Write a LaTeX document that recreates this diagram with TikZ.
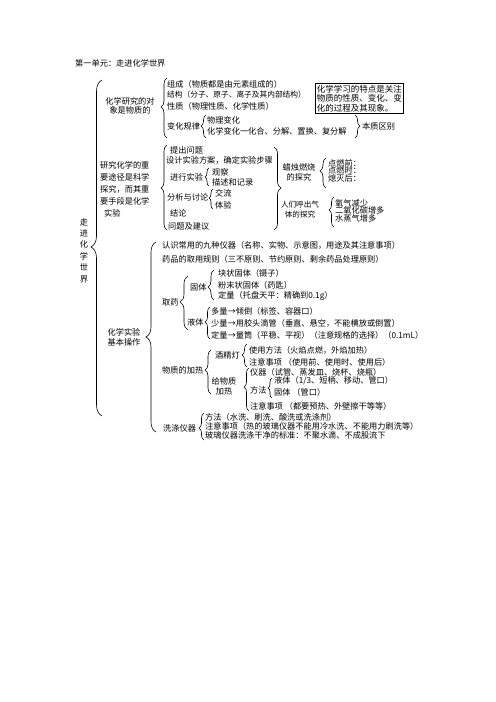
\documentclass[tikz,border=0pt]{standalone}
\usepackage{fontspec}
\setmainfont{Noto Sans CJK SC}
\usetikzlibrary{decorations.pathreplacing}
\newcommand\setfs[1]{\fontsize{#1bp}{#1bp}\selectfont}
\newcommand\bracL[5]{% x, ytop, ybot, ycusp, amplitude : opening brace {
  \pgfmathsetmacro\bAsp{(#3-#4)/(#3-#2)}%
  \draw[brc,decoration={brace,amplitude=#5bp,aspect=\bAsp}] (#1,#3) -- (#1,#2);}
\newcommand\bracR[5]{% closing brace }
  \pgfmathsetmacro\bAsp{(#4-#2)/(#3-#2)}%
  \draw[brc,decoration={brace,amplitude=#5bp,aspect=\bAsp}] (#1,#2) -- (#1,#3);}
\tikzset{
  txt/.style={anchor=west,inner sep=0pt,font=\setfs{8.2}},
  lbl/.style={inner sep=0pt,align=center,font=\setfs{8.2}},
  brc/.style={decorate,line width=0.6bp,black},
  notebox/.style={draw,line width=0.8bp,inner sep=1.5bp,align=left,anchor=north west,
    font=\fontsize{8.5bp}{9.6bp}\selectfont}
}
\begin{document}
\begin{tikzpicture}[x=1bp,y=-1bp]
\useasboundingbox (0,0) rectangle (496,702);
% title
\node[txt] (title) at (75,63) {第一单元：走进化学世界};
% root label
\node[lbl,font=\fontsize{8.2bp}{11.4bp}\selectfont] (root) at (84,250.5) {走\\进\\化\\学\\世\\界};
\bracL{102}{80}{416}{247}{11}
% level 1 labels
\node[lbl,font=\fontsize{8.2bp}{9.2bp}\selectfont] (obj) at (130,106) {化学研究的对\\象是物质的};
\node[lbl,align=left,anchor=west,font=\fontsize{8.2bp}{12bp}\selectfont] (way) at (100,189) {研究化学的重\\要途径是科学\\探究，而其重\\要手段是化学\\\hspace{4bp}实验};
\node[lbl,font=\fontsize{8.2bp}{10bp}\selectfont] (ops) at (124,337) {化学实验\\基本操作};
% ---------- group 1
\bracL{167}{78}{138}{107}{6}
\node[txt] (zc) at (167,84) {组成（物质都是由元素组成的）};
\node[txt,font=\setfs{7.7}] (jg) at (167,95) {结构（分子、原子、离子及其内部结构）};
\node[txt] (xz) at (167,106) {性质（物理性质、化学性质）};
\node[txt] (bh) at (167,126) {变化规律};
\bracL{206}{115}{138}{126}{5}
\node[txt] (wl) at (207,120) {物理变化};
\node[txt] (hx) at (207,131) {化学变化一化合、分解、置换、复分解};
\bracR{355}{115}{138}{126}{5}
\node[txt] (bz) at (362,126) {本质区别};
\node[notebox] (note) at (315,83) {化学学习的特点是关注\\物质的性质、变化、变\\化的过程及其现象。};
% ---------- group 2
\bracL{167}{145}{230}{188}{6}
\node[txt] (tc) at (170,150) {提出问题};
\node[txt] (sj) at (166,160) {设计实验方案，确定实验步骤};
\node[txt] (jx) at (170,177) {进行实验};
\bracL{209}{168}{186}{177}{4}
\node[txt] (gc) at (212,172) {观察};
\node[txt] (ms) at (212,182) {描述和记录};
\node[txt] (fx) at (167,197) {分析与讨论};
\bracL{213}{189}{209}{198}{4}
\node[txt] (jl) at (215,193) {交流};
\node[txt] (ty) at (215,205) {体验};
\node[txt] (jlun) at (170,213) {结论};
\node[txt] (wt) at (168,226) {问题及建议};
\bracR{274}{147}{230}{188}{7}
\node[lbl,font=\fontsize{8.2bp}{10bp}\selectfont] (lz) at (299,172) {蜡烛燃烧\\的探究};
\bracL{326}{158}{188}{171}{6}
\node[txt] (dr1) at (328,163) {点燃前：};
\node[txt] (dr2) at (328,170.5) {点燃时：};
\node[txt] (dr3) at (328,178) {熄灭后：};
\node[lbl,font=\fontsize{7.6bp}{10bp}\selectfont] (hq) at (300,210) {人们呼出气\\体的探究};
\bracL{334}{197}{227}{210}{5}
\node[txt] (o2) at (335,203) {氧气减少};
\node[txt] (co2) at (335,210.5) {二氧化碳增多};
\node[txt] (h2o) at (335,218) {水蒸气增多};
% ---------- group 3
\bracL{156}{242}{432}{337}{10}
\node[txt] (rs) at (162,245) {认识常用的九种仪器（名称、实物、示意图，用途及其注意事项）};
\node[txt] (yp) at (162,259) {药品的取用规则（三不原则、节约原则、剩余药品处理原则）};
\node[txt] (qy) at (162,302) {取药};
\bracL{188}{276}{330}{302}{8}
\node[txt] (gt) at (190,287) {固体};
\bracL{214}{270}{300}{287}{6}
\node[txt] (kz) at (218,273) {块状固体（镊子）};
\node[txt] (fm) at (218,285) {粉末状固体（药匙）};
\node[txt] (dl) at (218,296) {定量（托盘天平：精确到0.1g）};
\node[txt] (yt) at (187,322) {液体};
\bracL{210}{307}{339}{322}{5}
\node[txt] (dl1) at (211,311) {多量→倾倒（标签、容器口）};
\node[txt] (sl) at (211,323) {少量→用胶头滴管（垂直、悬空，不能横放或倒置）};
\node[txt] (dl2) at (211,335) {定量→量筒（平稳、平视）（注意规格的选择）（0.1mL）};
\node[txt] (jr) at (162,370) {物质的加热};
\bracL{211}{350}{394}{370}{6}
\node[txt] (jjd) at (215,355) {酒精灯};
\bracL{247}{344}{367}{355}{5}
\node[txt] (syff) at (249,350) {使用方法（火焰点燃，外焰加热）};
\node[txt] (zysx1) at (249,362) {注意事项 （使用前、使用时、使用后）};
\node[lbl,font=\fontsize{8.2bp}{10bp}\selectfont] (gwz) at (224,386) {给物质\\加热};
\bracL{249}{368}{411}{387}{5}
\node[txt] (yq) at (250,372) {仪器（试管、蒸发皿、烧杯、烧瓶）};
\node[txt] (ff) at (250,390) {方法};
\bracL{272}{378}{398}{388}{4}
\node[txt] (ytj) at (274,381) {液体（1/3、短柄、移动、管口）};
\node[txt] (gtj) at (274,392) {固体 （管口）};
\node[txt] (zysx2) at (250,406) {注意事项 （都要预热、外壁擦干等等）};
\node[txt] (xd) at (163,428) {洗涤仪器};
\bracL{204}{413}{440}{428}{5}
\node[txt] (xdff) at (205,417) {方法（水洗、刷洗、酸洗或洗涤剂）};
\node[txt] (xdzy) at (205,426) {注意事项（热的玻璃仪器不能用冷水洗、不能用力刷洗等）};
\node[txt] (bz2) at (205,435) {玻璃仪器洗涤干净的标准：不聚水滴、不成股流下};
\end{tikzpicture}
\end{document}
